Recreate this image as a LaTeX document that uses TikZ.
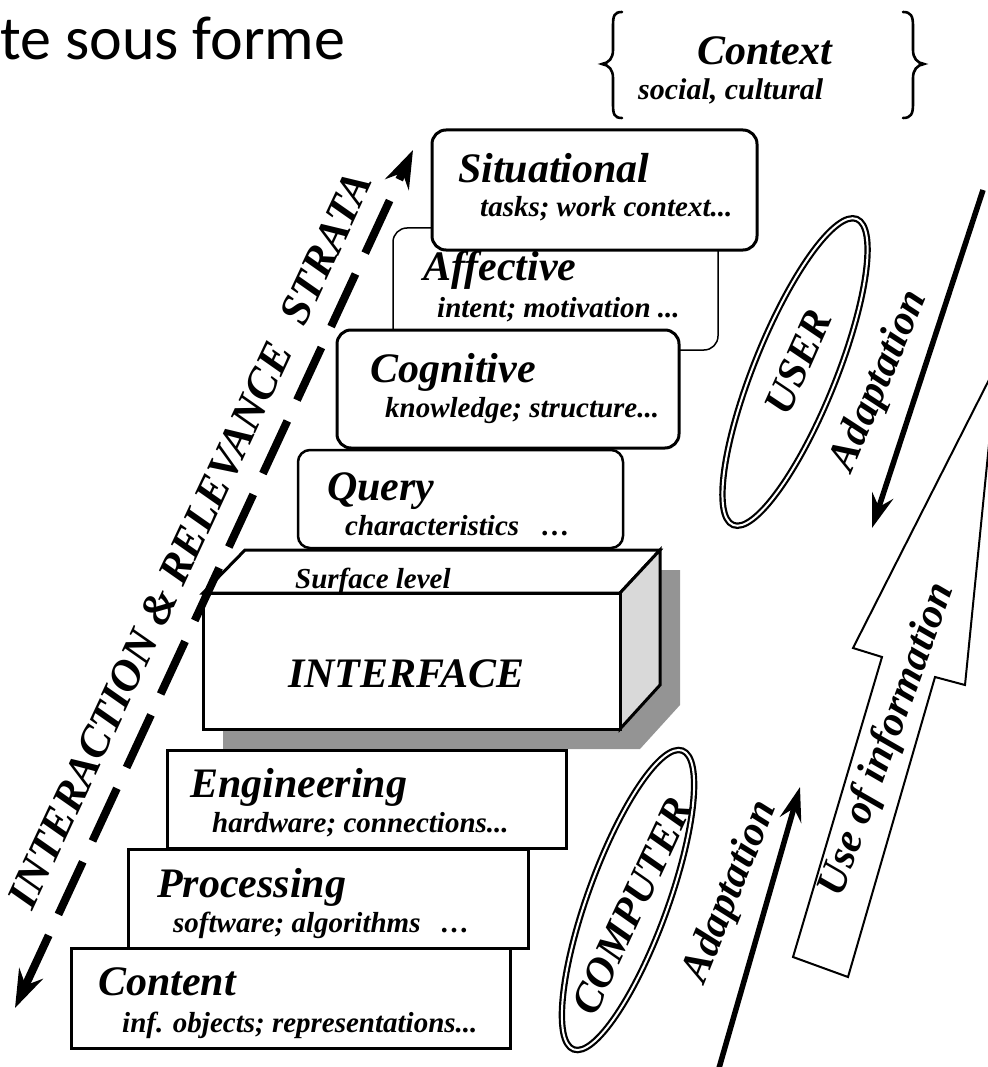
\documentclass[tikz,border=0pt]{standalone}
\usepackage{fontspec}
\setmainfont{Liberation Serif}
\newfontfamily\calibfont{Carlito}
\usetikzlibrary{arrows.meta,shapes.geometric}

\begin{document}
\begin{tikzpicture}[x=1pt,y=-1pt,
  big/.style={inner sep=0pt, font=\bfseries\itshape\fontsize{42}{44}\selectfont},
  ttl/.style={big, anchor=base west},
  sub/.style={inner sep=0pt, anchor=base west, font=\bfseries\itshape\fontsize{29}{31}\selectfont},
  layerbox/.style={draw, line width=3pt, fill=white, inner sep=0pt},
  softbox/.style={layerbox, rounded corners=14pt},
  ring/.style={draw, ellipse, line width=2.2pt, double=white, double distance=2pt, inner sep=0pt},
  strata/.style={line width=8pt, dash pattern=on 58pt off 23pt,
    {Stealth[length=38pt,width=26pt,inset=13pt]}-{Stealth[length=38pt,width=26pt,inset=13pt]}},
  adapt/.style={line width=5.5pt, -{Stealth[length=34pt,width=22pt,inset=12pt]}},
  bracket/.style={line width=2.6pt, line cap=round}
]
\useasboundingbox (0,0) rectangle (987,1067);

% heading fragment
\node[anchor=base west, inner sep=0pt, font=\calibfont\fontsize{62}{62}\selectfont] (head) at (0,60) {te sous forme};

% context in braces
\draw[bracket] (622,12) .. controls (614,12) and (613,16) .. (613,26) -- (613,50)
  .. controls (613,58) and (609,63) .. (602,64) .. controls (609,65) and (613,70) .. (613,78)
  -- (613,104) .. controls (613,114) and (614,118) .. (622,118);
\draw[bracket] (903,12) .. controls (911,12) and (913,16) .. (913,26) -- (913,50)
  .. controls (913,58) and (917,63) .. (924,64) .. controls (917,65) and (913,70) .. (913,78)
  -- (913,104) .. controls (913,114) and (911,118) .. (903,118);
\node[ttl] (ctx) at (697,65) {Context};
\node[sub, font=\bfseries\itshape\fontsize{30}{32}\selectfont] (ctxsub) at (638,100) {social, cultural};

% user-side strata
\node[softbox, line width=1.5pt, minimum width=325pt, minimum height=122pt] (aff) at (555.5,289) {};
\node[softbox, minimum width=325pt, minimum height=120pt] (sit) at (594.5,190) {};
\node[softbox, minimum width=342pt, minimum height=118pt] (cog) at (508,389) {};
\node[softbox, line width=2.5pt, rounded corners=12pt, minimum width=325pt, minimum height=98pt] (qry) at (460.5,499) {};

\node[ttl] (sitT) at (458,183) {Situational};
\node[sub] (sitS) at (480,217) {tasks; work context...};
\node[ttl] (affT) at (423,280) {Affective};
\node[sub] (affS) at (437,317) {intent; motivation ...};
\node[ttl] (cogT) at (370,382) {Cognitive};
\node[sub] (cogS) at (385,417) {knowledge; structure...};
\node[ttl] (qryT) at (327,500) {Query};
\node[sub] (qryS) at (345,535) {characteristics\hspace{22pt}…};

% interface block with its drop shadow
\fill[black!42] (223,613) -- (265,570) -- (680,570) -- (680,705) -- (640,749) -- (223,749) -- cycle;
\draw[line width=3pt, line join=miter, fill=white] (203,593) -- (245,550) -- (660,550) -- (620,593) -- cycle;
\draw[line width=3pt, line join=miter, fill=black!15] (620,593) -- (660,550) -- (660,685) -- (620,729) -- cycle;
\node[layerbox, minimum width=417pt, minimum height=136pt] (iface) at (411.5,661) {};
\node[sub] (surf) at (295,588) {Surface level};
\node[ttl] (ifaceT) at (288,687) {INTERFACE};

% computer-side strata
\node[layerbox, minimum width=399pt, minimum height=98pt] (eng) at (366.5,799) {};
\node[layerbox, minimum width=400pt, minimum height=99pt] (proc) at (328,898.5) {};
\node[layerbox, minimum width=439pt, minimum height=100pt] (cont) at (290.5,998) {};

\node[ttl] (engT) at (190,797) {Engineering};
\node[sub] (engS) at (212,832) {hardware; connections...};
\node[ttl] (procT) at (157,897) {Processing};
\node[sub] (procS) at (173,932) {software; algorithms\hspace{20pt}…};
\node[ttl] (contT) at (98,995) {Content};
\node[sub] (contS) at (122,1032) {inf. objects; representations...};

% interaction & relevance axis
\coordinate (dlo) at (15,1008);
\coordinate (dhi) at (413,150);
\draw[strata] (dlo) -- (dhi);
\node[big, font=\bfseries\itshape\fontsize{44}{46}\selectfont, rotate=65] (strataT) at (190,540)
  {INTERACTION \& RELEVANCE\hspace{0.6em}STRATA};

% user and computer
\node[ring, rotate=68, minimum width=330pt, minimum height=82pt] (userE) at (795,372) {};
\node[big, rotate=66] (userT) at (798,362) {USER};
\node[ring, rotate=70, minimum width=318pt, minimum height=80pt] (compE) at (628,900) {};
\node[big, rotate=65] (compT) at (632,906) {COMPUTER};

% adaptation arrows
\coordinate (ua1) at (983,190);
\coordinate (ua2) at (872,528);
\draw[adapt] (ua1) -- (ua2);
\node[big, rotate=67] (uaT) at (880,381) {Adaptation};
\coordinate (ca1) at (717,1075);
\coordinate (ca2) at (800,787);
\draw[adapt] (ca1) -- (ca2);
\node[big, rotate=68] (caT) at (731,892) {Adaptation};

% use of information
\draw[line width=2pt, line join=miter, fill=white] (793,957) -- (882,657) -- (853,648) -- (997,364)
  -- (965,685) -- (935,677) -- (848,977) -- cycle;
\node[big, rotate=70] (useT) at (888,740) {Use of information};
\end{tikzpicture}
\end{document}
